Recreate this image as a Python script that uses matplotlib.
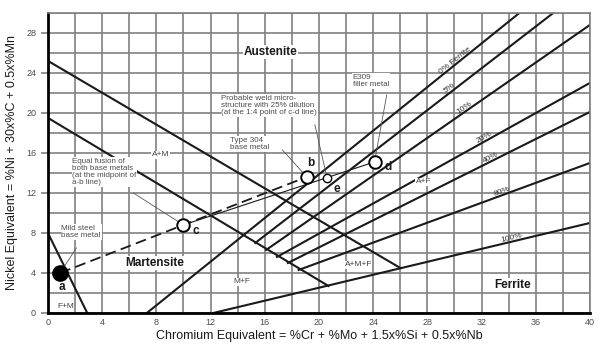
import numpy as np
import matplotlib.pyplot as plt

plt.rcParams['font.family'] = ['Liberation Sans', 'DejaVu Sans']

# phase boundary lines (Cr eq, Ni eq)
aust_x = [0, 26.0]
aust_y = [25.2, 4.5]
mart_x = [0, 20.7]
mart_y = [19.5, 2.7]
fm_x = [0, 2.9]
fm_y = [8.0, 0]

# iso-ferrite lines, start -> end
ferrite_labels = ['0% Ferrite', '5%', '10%', '20%', '40%', '80%', '100%']
ferrite_x0 = [7.3, 15.3, 16.1, 16.9, 17.7, 18.5, 12.2]
ferrite_y0 = [0, 7.0, 6.3, 5.6, 5.0, 4.3, 0]
ferrite_x1 = [34.8, 37.3, 40, 40, 40, 40, 40]
ferrite_y1 = [30, 30, 28.8, 23.0, 20.1, 15.0, 9.0]
ferrite_label_x = [30.2, 29.8, 30.9, 32.3, 32.8, 33.6, 34.3]

# weld points
pt_names = ['a', 'b', 'c', 'd', 'e']
pt_x = [0.9, 19.1, 10.0, 24.1, 20.6]
pt_y = [4.0, 13.6, 8.8, 15.1, 13.5]
pt_label_x = [1.0, 19.4, 10.9, 25.1, 21.3]
pt_label_y = [2.6, 15.0, 8.2, 14.6, 12.4]

# region names
regions = ['Austenite', 'Martensite', 'Ferrite']
region_x = [16.4, 7.9, 34.3]
region_y = [26.1, 5.0, 2.8]
mixed = ['A+M', 'A+F', 'M+F', 'F+M', 'A+M+F']
mixed_x = [8.3, 27.7, 14.3, 1.3, 22.9]
mixed_y = [15.8, 13.1, 3.1, 0.6, 4.8]

# notes: text, text position, point index the leader goes to, leader start
notes = ['Mild steel\nbase metal',
         'Equal fusion of\nboth base metals\n(at the midpoint of\na-b line)',
         'Type 304\nbase metal',
         'Probable weld micro-\nstructure with 25% dilution\n(at the 1:4 point of c-d line)',
         'E309\nfiller metal']
note_x = [1.0, 1.8, 13.4, 12.8, 22.5]
note_y = [8.8, 15.5, 17.6, 21.8, 23.9]
note_pt = [0, 2, 1, 4, 3]
lead_x = [2.1, 6.3, 17.3, 19.7, 25.0]
lead_y = [6.5, 12.0, 16.3, 18.8, 21.8]

fig = plt.figure(figsize=(5.99, 3.47), dpi=100)
ax = fig.add_axes([0.080, 0.098, 0.905, 0.865])
ax.set_xlim(0, 40)
ax.set_ylim(0, 30)

ax.set_xticks(np.arange(0, 41, 4))
ax.set_yticks(np.arange(0, 29, 4))
ax.set_xticks(np.arange(0, 41, 2), minor=True)
ax.set_yticks(np.arange(0, 31, 2), minor=True)
ax.grid(which='both', color='0.5', lw=1.2)
ax.set_axisbelow(True)
ax.tick_params(which='both', labelsize=6.5, colors='0.3', length=0)
ax.tick_params(axis='y', which='major', length=5, color='0.5', width=1.2)
for s in ['top', 'right']:
    ax.spines[s].set_color('0.5')
    ax.spines[s].set_linewidth(1.2)
for s in ['left', 'bottom']:
    ax.spines[s].set_linewidth(2)

ax.set_xlabel('Chromium Equivalent = %Cr + %Mo + 1.5x%Si + 0.5x%Nb',
              fontsize=9, labelpad=2, color='0.1')
ax.set_ylabel('Nickel Equivalent = %Ni + 30x%C + 0.5x%Mn',
              fontsize=9, labelpad=6, color='0.1')

lc = '0.1'
ax.plot(aust_x, aust_y, color=lc, lw=1.5)
ax.plot(mart_x, mart_y, color=lc, lw=1.5)
ax.plot(fm_x, fm_y, color=lc, lw=1.5)

for i in range(len(ferrite_labels)):
    ax.plot([ferrite_x0[i], ferrite_x1[i]], [ferrite_y0[i], ferrite_y1[i]], color=lc, lw=1.5)
    slope = (ferrite_y1[i] - ferrite_y0[i]) / (ferrite_x1[i] - ferrite_x0[i])
    lx = ferrite_label_x[i]
    ly = ferrite_y0[i] + slope * (lx - ferrite_x0[i])
    ax.text(lx, ly, ferrite_labels[i], fontsize=6, color='0.2',
            rotation=np.degrees(np.arctan(slope)), transform_rotates_text=True,
            rotation_mode='anchor', ha='center', va='bottom')

for i in range(len(regions)):
    ax.text(region_x[i], region_y[i], regions[i], fontsize=8.5, fontweight='bold',
            ha='center', va='center', color='0.1',
            bbox=dict(fc='white', ec='none', pad=0.5))
for i in range(len(mixed)):
    ax.text(mixed_x[i], mixed_y[i], mixed[i], fontsize=6, ha='center', va='center',
            color='0.25', bbox=dict(fc='white', ec='none', pad=0.3))

# dilution lines
ax.plot([pt_x[0], pt_x[1]], [pt_y[0], pt_y[1]], color=lc, lw=1.3, dashes=(6, 3))
ax.plot([pt_x[2], pt_x[3]], [pt_y[2], pt_y[3]], color=lc, lw=0.8)

for i in range(len(notes)):
    ax.text(note_x[i], note_y[i], notes[i], fontsize=5.8, color='0.3',
            ha='left', va='top', linespacing=1.0,
            bbox=dict(fc='white', ec='none', pad=0.6), zorder=4)
    p = note_pt[i]
    ax.plot([lead_x[i], pt_x[p]], [lead_y[i], pt_y[p]], color='0.35', lw=0.6, zorder=4)

ax.plot(pt_x[0], pt_y[0], 'o', ms=11, color='black', zorder=5)
ax.plot(pt_x[1:4], pt_y[1:4], 'o', ms=9, mfc='white', mec='black', mew=1.4, ls='none', zorder=5)
ax.plot(pt_x[4], pt_y[4], 'o', ms=6, mfc='white', mec='black', mew=1.0, zorder=5)
for i in range(len(pt_names)):
    ax.text(pt_label_x[i], pt_label_y[i], pt_names[i], fontsize=8.5, fontweight='bold',
            ha='center', va='center', color='0.1', zorder=6)

fig.savefig('out.png', dpi=100)
